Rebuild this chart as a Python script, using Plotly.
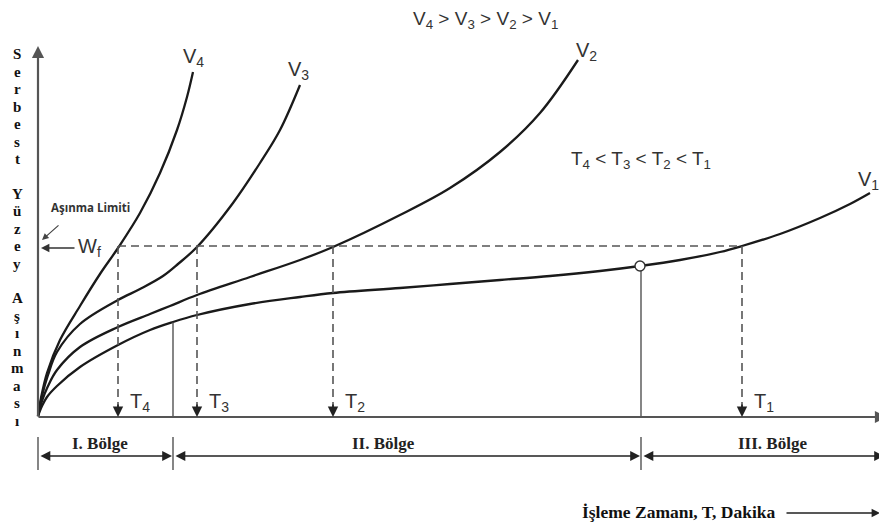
import plotly.graph_objects as go

v4_x = [38, 41, 47, 60, 80, 100, 118, 140, 160, 177, 187, 193]
v4_y = [416, 398, 373, 340, 306, 274, 248, 213, 173, 130, 97, 72]
v3_x = [38, 42, 48, 57, 80, 118, 140, 163, 178, 197, 233, 260, 280, 300]
v3_y = [416, 396, 375, 352, 324, 300, 289, 276, 264, 247, 203, 163, 130, 85]
v2_x = [38, 42, 48, 57, 80, 118, 150, 170, 197, 250, 300, 333, 400, 450, 500, 540, 578]
v2_y = [416, 401, 386, 370, 347, 327, 314, 306, 295, 277, 260, 247, 215, 188, 152, 113, 60]
v1_x = [38, 42, 47, 57, 80, 118, 150, 173, 197, 250, 300, 333, 400, 450, 500, 550, 600, 640, 680, 720, 742, 780, 820, 850, 870]
v1_y = [416, 406, 397, 386, 367, 345, 330, 322, 315, 304, 297, 293, 288, 284, 280, 276, 271, 266, 260, 252, 246, 234, 218, 204, 193]

curve_names = ["V<sub>4</sub>", "V<sub>3</sub>", "V<sub>2</sub>", "V<sub>1</sub>"]
curve_label_x = [193, 298, 586, 868]
curve_label_y = [57, 70, 51, 180]

wf_y = 246
t_names = ["T<sub>4</sub>", "T<sub>3</sub>", "T<sub>2</sub>", "T<sub>1</sub>"]
t_x = [118, 197, 333, 742]

zone_names = ["I. Bölge", "II. Bölge", "III. Bölge"]
zone_label_x = [100, 383, 772]
zone_edges = [38, 173, 641, 885]

y_title = "Serbest Yüzey Aşınması"
x_title = "İşleme Zamanı, T, Dakika"

x0, y0 = 38, 417
sans = "Liberation Sans"
serif = "Liberation Serif"
pad = 8  # the page body keeps an 8px margin, so the figure starts at (8, 8)

fig = go.Figure()

for xs, ys in [(v4_x, v4_y), (v3_x, v3_y), (v2_x, v2_y), (v1_x, v1_y)]:
    fig.add_trace(go.Scatter(x=xs, y=ys, mode="lines",
                             line=dict(color="#1a1a1a", width=2.3, shape="spline", smoothing=1.0),
                             hoverinfo="skip"))

# wear limit line
fig.add_trace(go.Scatter(x=[t_x[0], t_x[-1]], y=[wf_y, wf_y], mode="lines",
                         line=dict(color="#555", width=1.6, dash="8px,5px"), hoverinfo="skip"))
for tx in t_x:
    fig.add_trace(go.Scatter(x=[tx, tx], y=[wf_y, y0 - 8], mode="lines",
                             line=dict(color="#555", width=1.6, dash="8px,5px"), hoverinfo="skip"))

# zone boundaries on the curve
fig.add_trace(go.Scatter(x=[173, 173], y=[322, y0], mode="lines",
                         line=dict(color="#444", width=1.3), hoverinfo="skip"))
fig.add_trace(go.Scatter(x=[641, 641], y=[271, y0], mode="lines",
                         line=dict(color="#444", width=1.3), hoverinfo="skip"))
fig.add_trace(go.Scatter(x=[640], y=[266], mode="markers",
                         marker=dict(size=10, color="white", line=dict(color="#333", width=1.4)),
                         hoverinfo="skip"))

# zone ticks below axis
for ex in zone_edges[:-1]:
    fig.add_trace(go.Scatter(x=[ex, ex], y=[437, 470], mode="lines",
                             line=dict(color="#444", width=1.3), hoverinfo="skip"))

ann = []


def arrow(xt, yt, xs, ys, color="#555", width=2, size=1.2, head=2, side="end"):
    ann.append(dict(x=xt, y=yt, ax=xs, ay=ys, xref="x", yref="y", axref="x", ayref="y",
                    text="", showarrow=True, arrowhead=head, arrowsize=size,
                    arrowwidth=width, arrowcolor=color, arrowside=side))


# axes
arrow(887, y0, x0 - 1, y0, color="#555", width=2.2, size=1.1)
arrow(x0, 46, x0, y0 + 1, color="#555", width=2.2, size=1.1)

# T arrows
for tx, tn in zip(t_x, t_names):
    arrow(tx, y0, tx, y0 - 14, color="#222", width=1.6, size=1.3)
    ann.append(dict(x=tx + 10, y=402, xref="x", yref="y", text=tn, showarrow=False,
                    xanchor="left", font=dict(family=sans, size=20, color="#333")))

# zone double arrows
for i, zn in enumerate(zone_names):
    arrow(zone_edges[i + 1] - 1, 456, zone_edges[i] + 1, 456, color="#222", width=1.4,
          size=1.4, side="end+start")
    ann.append(dict(x=zone_label_x[i], y=443, xref="x", yref="y",
                    text="<b>" + zn + "</b>", showarrow=False,
                    font=dict(family=serif, size=17, color="#222")))

# curve labels
for cn, cx, cy in zip(curve_names, curve_label_x, curve_label_y):
    ann.append(dict(x=cx, y=cy, xref="x", yref="y", text=cn, showarrow=False,
                    font=dict(family=sans, size=20, color="#333")))

ann.append(dict(x=485, y=pad, xref="x", yref="y", showarrow=False, yanchor="top", yshift=2,
                text="V<sub>4</sub> > V<sub>3</sub> > V<sub>2</sub> > V<sub>1</sub>",
                font=dict(family=sans, size=19, color="#333")))
ann.append(dict(x=641, y=160, xref="x", yref="y", showarrow=False,
                text="T<sub>4</sub> < T<sub>3</sub> < T<sub>2</sub> < T<sub>1</sub>",
                font=dict(family=sans, size=19, color="#333")))

# wear limit labels
arrow(41, 248, 76, 248, color="#333", width=1.4, size=1.2)
ann.append(dict(x=76, y=247, xref="x", yref="y", text="W<sub>f</sub>", showarrow=False,
                xanchor="left", font=dict(family=sans, size=20, color="#333")))
ann.append(dict(x=49, y=207, xref="x", yref="y", text="<b>Aşınma Limiti</b>", showarrow=False,
                xanchor="left", font=dict(family="Open Sans", size=11.5, color="#333")))
arrow(42, 240, 60, 224, color="#444", width=1.2, size=1.1)

# vertical stacked y title
yy = 54
for ch in y_title:
    if ch != " ":
        ann.append(dict(x=17, y=yy, xref="x", yref="y", text="<b>" + ch + "</b>", showarrow=False,
                        font=dict(family=serif, size=15, color="#111")))
        yy += 17.5
    else:
        yy += 17

# x title with arrow
ann.append(dict(x=778, y=512, xref="x", yref="y", text="<b>" + x_title + "</b>", showarrow=False,
                xanchor="right", font=dict(family=serif, size=17.5, color="#111")))
arrow(880, 513, 785, 513, color="#222", width=1.4, size=1.2)

fig.update_layout(
    width=887 - pad, height=526 - pad,
    margin=dict(l=0, r=0, t=0, b=0),
    paper_bgcolor="white", plot_bgcolor="white",
    showlegend=False,
    xaxis=dict(range=[pad, 887], visible=False, fixedrange=True),
    yaxis=dict(range=[526, pad], visible=False, fixedrange=True),
    annotations=ann,
)

fig.write_html("out.html")
